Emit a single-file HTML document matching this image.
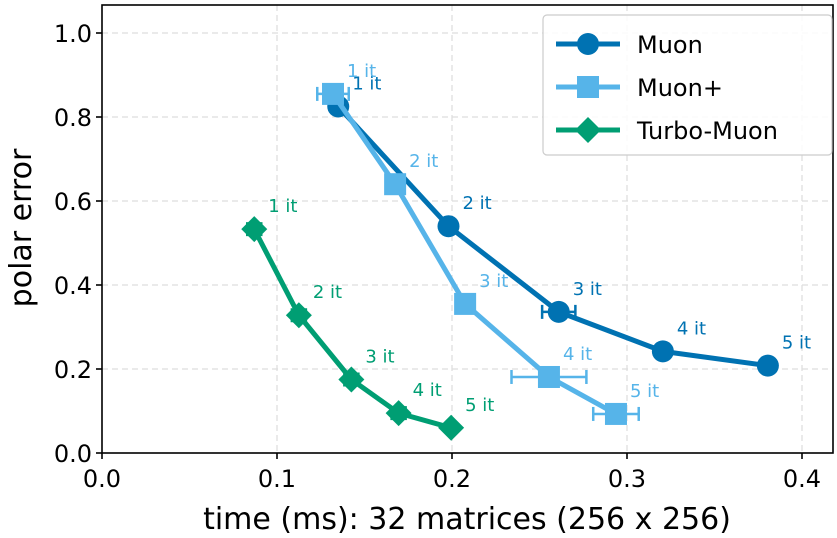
<!DOCTYPE html>
<html><head><meta charset="utf-8"><style>
body{margin:0;background:#fff}
svg{display:block;font-family:"DejaVu Sans","Liberation Sans",sans-serif}
</style></head><body>
<svg id="chart" width="837" height="538"></svg>
<script>
const xTicks=[0.0,0.1,0.2,0.3,0.4];
const yTicks=[0.0,0.2,0.4,0.6,0.8,1.0];
const iterLabels=["1 it","2 it","3 it","4 it","5 it"];
const muonX=[0.135,0.198,0.261,0.3205,0.3805];
const muonY=[0.825,0.540,0.336,0.242,0.208];
const muonErr=[0.002,0.002,0.0095,0.002,0.002];
const muonPX=[0.132,0.1675,0.2075,0.2554,0.2937];
const muonPY=[0.855,0.640,0.355,0.181,0.093];
const muonPErr=[0.009,0.004,0.003,0.0214,0.013];
const turboX=[0.087,0.1125,0.1425,0.1695,0.1995];
const turboY=[0.533,0.328,0.175,0.095,0.060];
const turboErr=[0.004,0.004,0.004,0.004,0.002];

const L=102,R=833,T=5,B=453;
const sx=v=>L+v*1750, sy=v=>B-v*420;
const svg=document.getElementById('chart');
const NS='http://www.w3.org/2000/svg';
function mk(tag,at,parent){const e=document.createElementNS(NS,tag);for(const k in at)e.setAttribute(k,at[k]);(parent||svg).appendChild(e);return e;}

xTicks.forEach(t=>{const g=mk('line',{x1:sx(t),x2:sx(t),y1:T,y2:B,stroke:'#ddd','stroke-dasharray':'6,4','stroke-width':1.2});

});
yTicks.forEach(t=>{const g=mk('line',{x1:L,x2:R,y1:sy(t),y2:sy(t),stroke:'#ddd','stroke-dasharray':'6,4','stroke-width':1.2});

});

function series(xs,ys,errs,color,marker,name){
  const g=mk('g',{});
  
  
  mk('polyline',{points:xs.map((x,i)=>sx(x)+','+sy(ys[i])).join(' '),fill:'none',stroke:color,'stroke-width':5,'stroke-linejoin':'round'},g);
  xs.forEach((x,i)=>{
    const cx=sx(x),cy=sy(ys[i]),x1=sx(x-errs[i]),x2=sx(x+errs[i]);
    mk('line',{x1:x1,x2:x2,y1:cy,y2:cy,stroke:color,'stroke-width':2.5},g);
    mk('line',{x1:x1,x2:x1,y1:cy-7,y2:cy+7,stroke:color,'stroke-width':2.5},g);
    mk('line',{x1:x2,x2:x2,y1:cy-7,y2:cy+7,stroke:color,'stroke-width':2.5},g);
    let m;
    if(marker==='o') m=mk('circle',{cx:cx,cy:cy,r:11,fill:color},g);
    else if(marker==='s') m=mk('rect',{x:cx-11,y:cy-11,width:22,height:22,fill:color},g);
    else m=mk('polygon',{points:`${cx},${cy-13} ${cx+13},${cy} ${cx},${cy+13} ${cx-13},${cy}`,fill:color},g);
    
    
    const t=mk('text',{x:cx+14,y:cy-17,fill:color,'font-size':18},g);
    t.textContent=iterLabels[i];
    
    
  });
}
series(muonX,muonY,muonErr,'#0072B2','o','muon');
series(muonPX,muonPY,muonPErr,'#56B4E9','s','muon-plus');
series(turboX,turboY,turboErr,'#009E73','d','turbo-muon');

const fr=mk('rect',{x:L,y:T,width:R-L,height:B-T,fill:'none',stroke:'#000','stroke-width':1.6});


xTicks.forEach(t=>{mk('line',{x1:sx(t),x2:sx(t),y1:B,y2:B+6,stroke:'#000','stroke-width':1.6});
const tx=mk('text',{x:sx(t),y:B+34,'text-anchor':'middle','font-size':24});tx.textContent=t.toFixed(1);

});
yTicks.forEach(t=>{mk('line',{x1:L-6,x2:L,y1:sy(t),y2:sy(t),stroke:'#000','stroke-width':1.6});
const tx=mk('text',{x:L-10,y:sy(t)+9,'text-anchor':'end','font-size':24});tx.textContent=t.toFixed(1);

});
const xl=mk('text',{x:467,y:529,'text-anchor':'middle','font-size':30});xl.textContent='time (ms): 32 matrices (256 x 256)';


const yl=mk('text',{x:0,y:0,'text-anchor':'middle','font-size':30,transform:`translate(31,228) rotate(-90)`});yl.textContent='polar error';



const lg=mk('g',{});


mk('rect',{x:543,y:15,width:289,height:140,rx:4,fill:'#fff','fill-opacity':0.85,stroke:'#ccc','stroke-width':1.2},lg);
const names=['Muon','Muon+','Turbo-Muon'],cols=['#0072B2','#56B4E9','#009E73'],mks=['o','s','d'];
names.forEach((n,i)=>{
  const y=44+i*43,g=mk('g',{},lg);
  
  
  mk('line',{x1:556,x2:620,y1:y,y2:y,stroke:cols[i],'stroke-width':5},g);
  if(mks[i]==='o') mk('circle',{cx:588,cy:y,r:11,fill:cols[i]},g);
  else if(mks[i]==='s') mk('rect',{x:577,y:y-11,width:22,height:22,fill:cols[i]},g);
  else mk('polygon',{points:`588,${y-13} 601,${y} 588,${y+13} 575,${y}`,fill:cols[i]},g);
  const t=mk('text',{x:637,y:y+9,'font-size':24},g);t.textContent=n;
});
</script>
</body></html>
